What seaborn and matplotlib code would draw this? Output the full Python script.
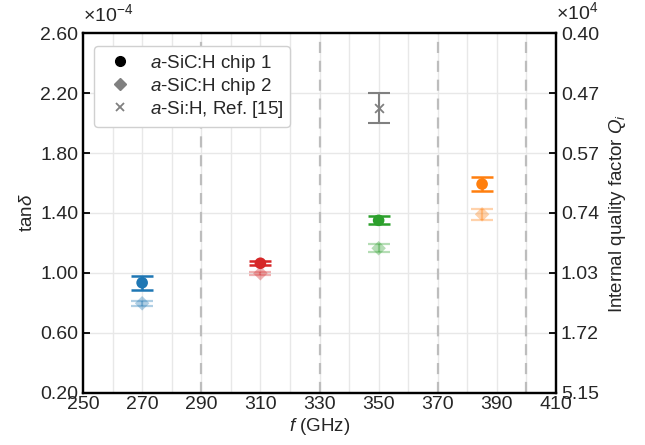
import matplotlib
matplotlib.use("Agg")
import matplotlib.pyplot as plt
import seaborn as sns
import pandas as pd
import numpy as np
from matplotlib.lines import Line2D

# ---- data (tan delta in units of 1e-4) ----
freqs = [270, 310, 350, 385]
colors = ["#1f77b4", "#d62728", "#2ca02c", "#ff7f0e"]
chip1_tan = [0.935, 1.065, 1.351, 1.593]
chip1_err = [0.047, 0.013, 0.026, 0.048]
chip2_tan = [0.798, 0.998, 1.165, 1.391]
chip2_err = [0.017, 0.010, 0.027, 0.038]
ref_freq = [350]
ref_tan = [2.10]
ref_err = [0.10]
band_edges = [290, 330, 370, 400]
xticks = [250, 270, 290, 310, 330, 350, 370, 390, 410]
xminor = [260, 280, 300, 320, 340, 360, 380, 400]
yticks = [0.20, 0.60, 1.00, 1.40, 1.80, 2.20, 2.60]
q_labels = ["5.15", "1.72", "1.03", "0.74", "0.57", "0.47", "0.40"]

sns.set_theme(style="white")
plt.rcParams["font.family"] = ["Liberation Sans", "DejaVu Sans"]
plt.rcParams["mathtext.fontset"] = "custom"
plt.rcParams["mathtext.rm"] = "Liberation Sans"
plt.rcParams["mathtext.it"] = "Liberation Sans:italic"
plt.rcParams["mathtext.bf"] = "Liberation Sans:bold"

fs = 14
lfs = 13.5
fig = plt.figure(figsize=(6.45, 4.45), dpi=100)
ax = fig.add_axes([0.1287, 0.1169, 0.862 - 0.1287, 0.9258 - 0.1169])

df1 = pd.DataFrame({"f": freqs, "tan": chip1_tan, "c": colors})
df2 = pd.DataFrame({"f": freqs, "tan": chip2_tan, "c": colors})

# grid
for xv in xticks[1:-1] + xminor:
    ax.axvline(xv, color="#e8e8e8", lw=1.0, zorder=0)
for yv in yticks[1:-1]:
    ax.axhline(yv, color="#e8e8e8", lw=1.0, zorder=0)
for xv in band_edges:
    ax.axvline(xv, color="#bdbdbd", lw=1.6, ls=(0, (5, 3.5)), zorder=1)

# chip 2 (light)
for f, t, e, c in zip(freqs, chip2_tan, chip2_err, colors):
    ax.errorbar([f], [t], yerr=[e], fmt="none", ecolor=c, elinewidth=1.6,
                capsize=8, capthick=1.6, alpha=0.35, zorder=2)
sns.scatterplot(data=df2, x="f", y="tan", hue="c", palette={c: c for c in colors},
                marker="D", s=55, alpha=0.35, edgecolor="none", legend=False, ax=ax, zorder=3)

# chip 1
for f, t, e, c in zip(freqs, chip1_tan, chip1_err, colors):
    ax.errorbar([f], [t], yerr=[e], fmt="none", ecolor=c, elinewidth=1.8,
                capsize=8, capthick=1.8, zorder=4)
sns.scatterplot(data=df1, x="f", y="tan", hue="c", palette={c: c for c in colors},
                marker="o", s=70, edgecolor="none", legend=False, ax=ax, zorder=5)

# reference
ax.errorbar(ref_freq, ref_tan, yerr=ref_err, fmt="none", ecolor="#808080",
            elinewidth=1.5, capsize=8, capthick=1.5, zorder=4)
sns.scatterplot(x=ref_freq, y=ref_tan, marker="x", s=40, color="#808080",
                linewidth=1.3, legend=False, ax=ax, zorder=5)

ax.set_xlim(250, 410)
ax.set_ylim(0.2, 2.6)
ax.set_xticks(xticks)
ax.set_xticks(xminor, minor=True)
ax.set_xticklabels([str(v) for v in xticks])
ax.set_yticks(yticks)
ax.set_yticklabels([f"{v:.2f}" for v in yticks])
ax.tick_params(axis="both", which="both", direction="in", labelsize=fs,
               color="black", width=1.3)
ax.tick_params(axis="both", which="major", length=5)
ax.tick_params(axis="x", which="minor", length=3)
ax.tick_params(axis="x", pad=2)
for s in ax.spines.values():
    s.set_linewidth(1.6)
    s.set_color("black")
ax.set_xlabel("$f$ (GHz)", fontsize=lfs, labelpad=2)
ax.set_ylabel(r"tan$\delta$", fontsize=lfs, labelpad=3)
ax.text(0.0, 1.022, r"$\times10^{-4}$", transform=ax.transAxes, fontsize=fs,
        ha="left", va="bottom")

ax2 = ax.twinx()
ax2.set_ylim(0.2, 2.6)
ax2.set_yticks(yticks)
ax2.set_yticklabels(q_labels)
ax2.tick_params(axis="y", direction="in", labelsize=fs, length=5, width=1.3, color="black")
ax2.set_ylabel("Internal quality factor $Q_i$", fontsize=lfs, labelpad=6)
for s in ax2.spines.values():
    s.set_linewidth(1.6)
    s.set_color("black")
ax2.text(1.0, 1.028, r"$\times10^{4}$", transform=ax.transAxes, fontsize=fs,
         ha="left", va="bottom")

handles = [
    Line2D([], [], marker="o", color="black", ls="none", markersize=7),
    Line2D([], [], marker="D", color="#808080", ls="none", markersize=6),
    Line2D([], [], marker="x", color="#808080", ls="none", markersize=6, mew=1.3),
]
labels = ["$a$-SiC:H chip 1", "$a$-SiC:H chip 2", "$a$-Si:H, Ref. [15]"]
ax.legend(handles, labels, loc="upper left", fontsize=lfs, frameon=True,
          edgecolor="#d0d0d0", fancybox=True, framealpha=1.0,
          borderpad=0.35, handletextpad=0.6, labelspacing=0.12,
          bbox_to_anchor=(0.004, 0.99))

fig.savefig("out.png", dpi=100)
